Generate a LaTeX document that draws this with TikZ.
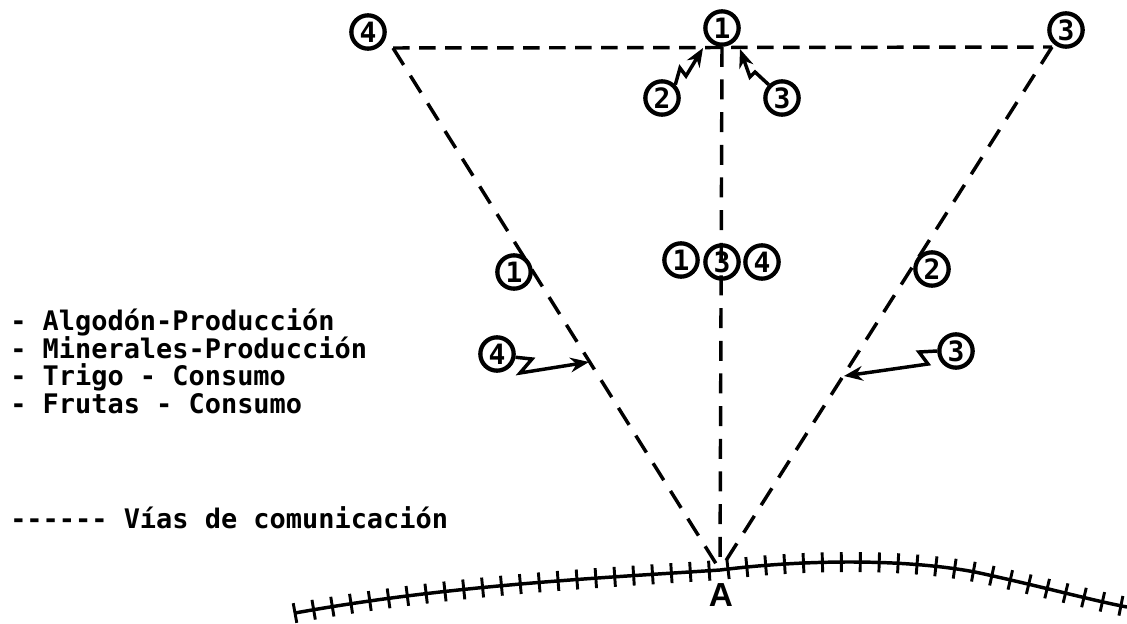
\documentclass[tikz,border=0pt]{standalone}
\usepackage{fontspec}
\setmainfont{DejaVu Sans Mono}[Ligatures=NoCommon]
\newfontfamily\capfont{Liberation Sans}
\usetikzlibrary{arrows.meta,decorations.pathreplacing}
\tikzset{
  legend/.style={anchor=base west,inner sep=0pt,font=\fontsize{20.2}{22}\selectfont\bfseries},
  num/.style={circle,draw=black,line width=3.2pt,minimum size=25pt,inner sep=0pt,font=\fontsize{21}{22}\selectfont\bfseries},
  route/.style={line width=2.6pt},
  topdash/.style={route,dash pattern=on 12.5pt off 7pt},
  diagdash/.style={route,dash pattern=on 15pt off 9.5pt},
  zig/.style={line width=2.6pt,-{Stealth[length=14pt,width=11pt]}},
  rail/.style={line width=2.6pt},
  ties/.style={line width=2.2pt,decorate,decoration={ticks,segment length=14.2pt,amplitude=7.5pt}}
}
\begin{document}
\begin{tikzpicture}[x=0.75pt,y=-0.75pt]
\useasboundingbox (0,0) rectangle (1127,624);
\fill[white] (0,0) rectangle (1127,624);
% vertices
\coordinate (TL) at (393,48);
\coordinate (TR) at (1052,47);
\coordinate (AP) at (720,570);
% circled numbers
\node[num] (n4) at (368,32) {4};
\node[num] (n1) at (722,28) {1};
\node[num] (n3) at (1066,30) {3};
\node[num] (a2) at (662,98) {2};
\node[num] (a3) at (782,98) {3};
\node[num] (m1) at (681,260) {1};
\node[num] (m3) at (722,262) {3};
\node[num] (m4) at (762,262) {4};
\node[num] (l1) at (514,272) {1};
\node[num] (r2) at (932,269) {2};
\node[num] (l4) at (497,354) {4};
\node[num] (r3) at (956,351) {3};
% routes
\draw[topdash] (TL) -- (TR);
\draw[diagdash] (TL) -- (AP);
\draw[diagdash] (TR) -- (AP);
\draw[diagdash] (n1.south) -- (AP);
% arrow targets
\coordinate (t2) at (703,48);
\coordinate (t3) at (740,49);
\coordinate (t4) at (589,362);
\coordinate (t5) at (844,376);
% zigzag arrows
\draw[zig] (a2.north east) -- (680,68) -- (686,76) -- (t2);
\draw[zig] (a3.north west) -- (755,72) -- (750,77) -- (t3);
\draw[zig] (l4.-10) -- (532,359) -- (520,373) -- (t4);
\draw[zig] (r3.west) -- (919,352) -- (928,364) -- (t5);
% railway
\coordinate (R0) at (295,613);
\coordinate (R9) at (1127,607);
\draw[rail] (R0) .. controls (450,585) and (600,578) .. (AP)
  .. controls (800,560) and (900,558) .. (975,572)
  .. controls (1040,586) and (1090,600) .. (R9);
\draw[ties] (R0) .. controls (450,585) and (600,578) .. (AP)
  .. controls (800,560) and (900,558) .. (975,572)
  .. controls (1040,586) and (1090,600) .. (R9);
\node[font=\fontsize{25}{25}\selectfont\capfont\bfseries,inner sep=0pt] (A) at (721,595) {A};
% legend
\node[legend] (t1) at (10,330) {- Algodón-Producción};
\node[legend] (t2b) at (10,358) {- Minerales-Producción};
\node[legend] (t3b) at (10,385) {- Trigo - Consumo};
\node[legend] (t4b) at (10,413) {- Frutas - Consumo};
\node[legend] (t5b) at (10,528) {{-}{-}{-}{-}{-}{-} Vías de comunicación};
\end{tikzpicture}
\end{document}
